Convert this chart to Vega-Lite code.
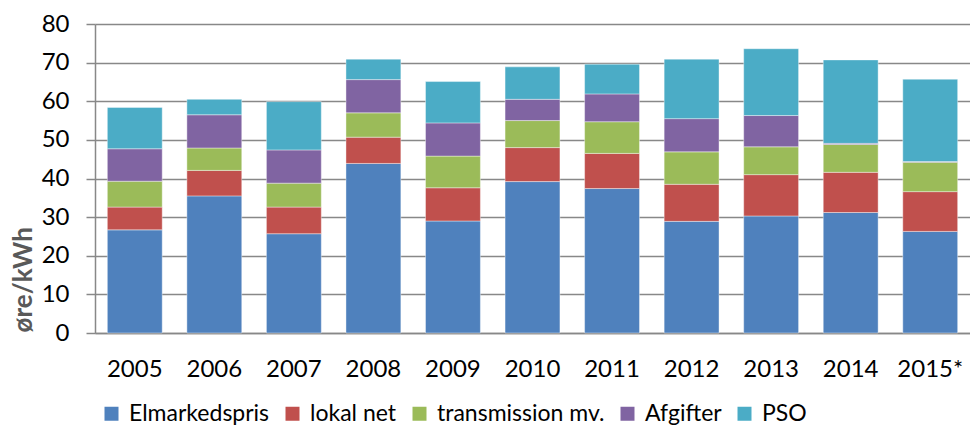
{
  "$schema": "https://vega.github.io/schema/vega-lite/v6.json",
  "autosize": "none",
  "width": 875,
  "height": 309,
  "padding": {"left": 95, "top": 24, "right": 0, "bottom": 96},
  "background": "white",
  "config": {"view": {"stroke": null}, "font": "Lato"},
  "data": {"values": [
    {"y":"2005","s":"Elmarkedspris","v":26.7,"k":1},{"y":"2005","s":"lokal net","v":5.9,"k":2},{"y":"2005","s":"transmission mv.","v":6.7,"k":3},{"y":"2005","s":"Afgifter","v":8.4,"k":4},{"y":"2005","s":"PSO","v":10.7,"k":5},
    {"y":"2006","s":"Elmarkedspris","v":35.5,"k":1},{"y":"2006","s":"lokal net","v":6.6,"k":2},{"y":"2006","s":"transmission mv.","v":5.8,"k":3},{"y":"2006","s":"Afgifter","v":8.6,"k":4},{"y":"2006","s":"PSO","v":4.0,"k":5},
    {"y":"2007","s":"Elmarkedspris","v":25.7,"k":1},{"y":"2007","s":"lokal net","v":6.9,"k":2},{"y":"2007","s":"transmission mv.","v":6.2,"k":3},{"y":"2007","s":"Afgifter","v":8.6,"k":4},{"y":"2007","s":"PSO","v":12.5,"k":5},
    {"y":"2008","s":"Elmarkedspris","v":43.9,"k":1},{"y":"2008","s":"lokal net","v":6.8,"k":2},{"y":"2008","s":"transmission mv.","v":6.3,"k":3},{"y":"2008","s":"Afgifter","v":8.6,"k":4},{"y":"2008","s":"PSO","v":5.3,"k":5},
    {"y":"2009","s":"Elmarkedspris","v":29.0,"k":1},{"y":"2009","s":"lokal net","v":8.6,"k":2},{"y":"2009","s":"transmission mv.","v":8.2,"k":3},{"y":"2009","s":"Afgifter","v":8.6,"k":4},{"y":"2009","s":"PSO","v":10.7,"k":5},
    {"y":"2010","s":"Elmarkedspris","v":39.2,"k":1},{"y":"2010","s":"lokal net","v":8.8,"k":2},{"y":"2010","s":"transmission mv.","v":7.0,"k":3},{"y":"2010","s":"Afgifter","v":5.5,"k":4},{"y":"2010","s":"PSO","v":8.4,"k":5},
    {"y":"2011","s":"Elmarkedspris","v":37.4,"k":1},{"y":"2011","s":"lokal net","v":9.1,"k":2},{"y":"2011","s":"transmission mv.","v":8.2,"k":3},{"y":"2011","s":"Afgifter","v":7.2,"k":4},{"y":"2011","s":"PSO","v":7.7,"k":5},
    {"y":"2012","s":"Elmarkedspris","v":28.9,"k":1},{"y":"2012","s":"lokal net","v":9.6,"k":2},{"y":"2012","s":"transmission mv.","v":8.4,"k":3},{"y":"2012","s":"Afgifter","v":8.6,"k":4},{"y":"2012","s":"PSO","v":15.4,"k":5},
    {"y":"2013","s":"Elmarkedspris","v":30.3,"k":1},{"y":"2013","s":"lokal net","v":10.7,"k":2},{"y":"2013","s":"transmission mv.","v":7.2,"k":3},{"y":"2013","s":"Afgifter","v":8.1,"k":4},{"y":"2013","s":"PSO","v":17.3,"k":5},
    {"y":"2014","s":"Elmarkedspris","v":31.2,"k":1},{"y":"2014","s":"lokal net","v":10.4,"k":2},{"y":"2014","s":"transmission mv.","v":7.2,"k":3},{"y":"2014","s":"Afgifter","v":0.3,"k":4},{"y":"2014","s":"PSO","v":21.6,"k":5},
    {"y":"2015*","s":"Elmarkedspris","v":26.3,"k":1},{"y":"2015*","s":"lokal net","v":10.3,"k":2},{"y":"2015*","s":"transmission mv.","v":7.6,"k":3},{"y":"2015*","s":"Afgifter","v":0.2,"k":4},{"y":"2015*","s":"PSO","v":21.3,"k":5}
  ]},
  "mark": {"type": "bar", "stroke": "#ffffff", "strokeWidth": 0.8, "strokeOpacity": 0.5},
  "encoding": {
    "x": {
      "field": "y", "type": "nominal", "sort": null,
      "scale": {"paddingInner": 0.31, "paddingOuter": 0.155},
      "axis": {
        "title": null, "labelAngle": 0, "labelFontSize": 24, "labelColor": "#000000",
        "ticks": false, "labelPadding": 24, "domainColor": "#888888", "domainWidth": 1.5,
        "grid": false
      }
    },
    "y": {
      "field": "v", "type": "quantitative", "stack": "zero",
      "scale": {"domain": [0, 80], "nice": false},
      "axis": {
        "title": "øre/kWh", "values": [0,10,20,30,40,50,60,70,80],
        "labelFontSize": 24, "labelColor": "#000000", "labelPadding": 17,
        "tickSize": 9, "tickColor": "#888888", "tickWidth": 1.5,
        "domainColor": "#888888", "domainWidth": 1.5,
        "gridColor": "#888888", "gridWidth": 1.5,
        "titleFontSize": 26, "titleFontWeight": "bold", "titleColor": "#595959",
        "titleAngle": 270, "titleAlign": "left", "titleBaseline": "alphabetic",
        "titleX": -64, "titleY": 308
      }
    },
    "color": {
      "field": "s", "type": "nominal",
      "scale": {
        "domain": ["Elmarkedspris", "lokal net", "transmission mv.", "Afgifter", "PSO"],
        "range": ["#4F81BD", "#C0504D", "#9BBB59", "#8064A2", "#4BACC6"]
      },
      "legend": {
        "title": null, "orient": "none", "direction": "horizontal", "columns": 5,
        "legendX": 5, "legendY": 378,
        "symbolType": "square", "symbolSize": 196, "symbolStrokeWidth": 0,
        "labelFontSize": 23, "labelColor": "#000000", "labelOffset": 6,
        "columnPadding": 11, "labelLimit": 400
      }
    },
    "order": {"field": "k", "type": "quantitative", "sort": "ascending"}
  }
}
